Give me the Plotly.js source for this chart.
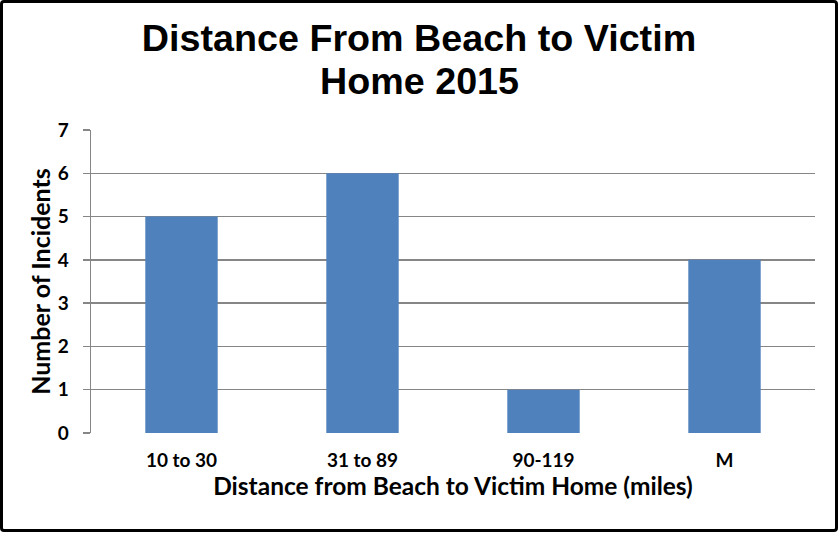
<!DOCTYPE html>
<html><head><meta charset="utf-8">
<script src="https://cdn.plot.ly/plotly-3.0.1.min.js"></script>
<style>html,body{margin:0;padding:0;background:#fff;}
#wrap{position:relative;width:838px;height:533px;}
#chart{position:absolute;left:0;top:0;width:838px;height:533px;}
#frame{position:absolute;left:0;top:0;width:832px;height:526px;border:3px solid #000;border-radius:4px;pointer-events:none;}
</style></head>
<body><div id="wrap"><div id="chart"></div><div id="frame"></div></div>
<script>
const categories = ["10 to 30", "31 to 89", "90-119", "M"];
const incidents = [5, 6, 1, 4];
const yTicks = [0, 1, 2, 3, 4, 5, 6, 7];
const titleLines = ["Distance From Beach to Victim", "Home 2015"];

const trace = {
  type: 'bar', x: categories, y: incidents,
  marker: {color: '#4F81BD'}, width: 0.4, hoverinfo: 'x+y'
};
const T = 'Liberation Sans, Arial, sans-serif';
const F = 'Lato, Carlito, Calibri, sans-serif';
const titleFont = {family: T, size: 37.7, color: '#000', weight: 'bold'};
const layout = {
  width: 838, height: 533,
  margin: {l: 91, r: 23, t: 130, b: 100},
  paper_bgcolor: '#fff', plot_bgcolor: '#fff',
  showlegend: false,
  title: {text: titleLines[0], font: titleFont,
          x: 0.5, xref: 'container', y: 1 - 38 / 533, yref: 'container', yanchor: 'middle'},
  annotations: [{text: titleLines[1], font: titleFont, showarrow: false,
                 xref: 'paper', x: (419 - 91) / 724, xanchor: 'center',
                 yref: 'paper', y: (433 - 81) / 303, yanchor: 'middle'}],
  xaxis: {type: 'category', tickfont: {family: F, size: 19, color: '#000', weight: 'bold'},
          title: {text: 'Distance from Beach to Victim Home (miles)', font: {family: F, size: 24.5, color: '#000', weight: 'bold'}, standoff: 7},
          showgrid: false, showline: false, ticks: '', ticklabelstandoff: 14, automargin: false},
  yaxis: {range: [0, 7], tickvals: yTicks, tickfont: {family: F, size: 19, color: '#000', weight: 'bold'},
          ticklabelstandoff: 10,
          title: {text: 'Number of Incidents', font: {family: F, size: 25, color: '#000', weight: 'bold'}, standoff: 0},
          showgrid: true, gridcolor: '#868686', gridwidth: 1.3,
          showline: true, linecolor: '#868686', linewidth: 1.3,
          ticks: 'outside', ticklen: 7, tickcolor: '#868686', tickwidth: 1.3,
          zeroline: false, automargin: false}
};
Plotly.newPlot('chart', [trace], layout, {displayModeBar: false, staticPlot: true});
</script></body></html>
